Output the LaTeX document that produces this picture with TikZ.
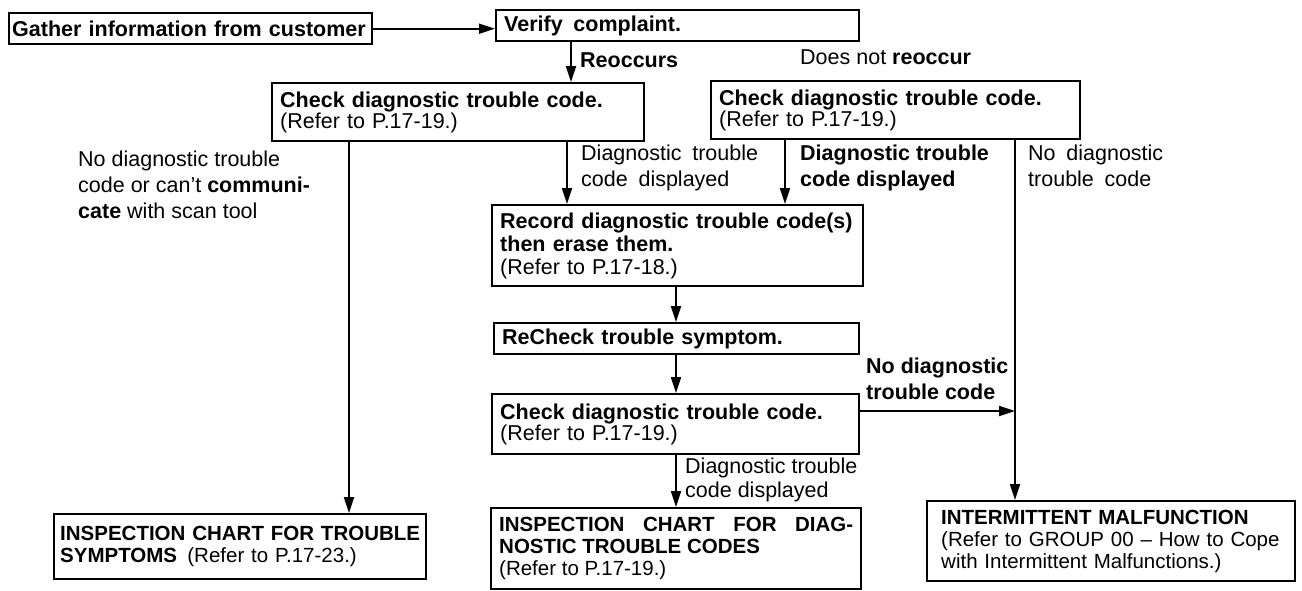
\documentclass[tikz,border=0pt]{standalone}
\usepackage{fontspec}
\setmainfont{Liberation Sans}
\usetikzlibrary{arrows.meta}

\begin{document}
\begin{tikzpicture}[
  x=1pt, y=-1pt,
  font=\fontsize{21.5}{26}\selectfont,
  box/.style={draw, line width=2.4pt, anchor=north west, align=left, inner xsep=8pt, inner ysep=2pt, font=\fontsize{21.5}{23}\selectfont\bfseries},
  chk/.style={box, font=\fontsize{21.5}{19}\selectfont\bfseries},
  insp/.style={box, font=\fontsize{20.5}{22}\selectfont\bfseries},
  lbl/.style={anchor=north west, align=left, inner sep=0pt},
  lblb/.style={lbl, font=\fontsize{21.5}{26}\selectfont\bfseries},
  ar/.style={-{Triangle[length=16pt, width=10pt]}, line width=1.8pt}
]
\useasboundingbox (0,0) rectangle (1302,590);
% boxes
\node[box, text width=357pt, inner xsep=3pt, minimum height=31pt] (gather) at (8,12) {Gather information from customer};
\node[box, text width=347pt, minimum height=31pt] (verify) at (495,9) {Verify\enspace complaint.};
\node[chk, text width=356pt, minimum height=58pt] (chkA) at (271,82) {Check diagnostic trouble code.\\\mdseries(Refer to P.17-19.)};
\node[chk, text width=353pt, minimum height=58pt] (chkB) at (710,80) {Check diagnostic trouble code.\\\mdseries(Refer to P.17-19.)};
\node[box, text width=355pt, minimum height=81pt] (record) at (491,204) {Record diagnostic trouble code(s)\\then erase them.\\\mdseries(Refer to P.17-18.)};
\node[box, text width=349pt, minimum height=31pt] (recheck) at (493,322) {ReCheck trouble symptom.};
\node[chk, text width=351pt, minimum height=60pt] (chkC) at (491,393) {Check diagnostic trouble code.\\\mdseries(Refer to P.17-19.)};
\node[insp, text width=360pt, inner xsep=6pt, minimum height=65pt] (inspA) at (53,513) {INSPECTION CHART FOR TROUBLE\\SYMPTOMS\enspace\mdseries(Refer to P.17-23.)};
\node[insp, align=justify, text width=354pt, minimum height=81pt] (inspB) at (490,507) {INSPECTION CHART FOR DIAG-\linebreak NOSTIC TROUBLE CODES\\\mdseries(Refer to P.17-19.)};
\node[insp, text width=340pt, inner xsep=14pt, minimum height=80pt] (inspC) at (926,500) {INTERMITTENT MALFUNCTION\\\mdseries(Refer to GROUP 00 -- How to Cope\\with Intermittent Malfunctions.)};
% columns of the connectors
\coordinate (xRe) at (571,0);
\coordinate (xIns) at (349,0);
\coordinate (xDspA) at (567,0);
\coordinate (xDspB) at (785,0);
\coordinate (xNoD) at (1015,0);
\coordinate (xMid) at (676,0);
\coordinate (yNoD) at (0,411);
% connectors
\draw[ar] (gather.east) -- (gather.east -| verify.west);
\draw[ar] (verify.south -| xRe) -- (chkA.north -| xRe);
\draw[ar] (chkA.south -| xIns) -- (inspA.north -| xIns);
\draw[ar] (chkA.south -| xDspA) -- (record.north -| xDspA);
\draw[ar] (chkB.south -| xDspB) -- (record.north -| xDspB);
\draw[ar] (chkB.south -| xNoD) -- (inspC.north -| xNoD);
\draw[ar] (record.south -| xMid) -- (recheck.north -| xMid);
\draw[ar] (recheck.south -| xMid) -- (chkC.north -| xMid);
\draw[ar] (chkC.south -| xMid) -- (inspB.north -| xMid);
\draw[ar] (chkC.east |- yNoD) -- (xNoD |- yNoD);
% labels
\node[lblb, anchor=west] (reocc) at (580,60) {Reoccurs};
\node[lbl, anchor=west] (noreocc) at (800,57) {Does not \textbf{reoccur}};
\node[lbl] (nocomm) at (78,151) {No diagnostic trouble\\code or can't \textbf{communi-}\\\textbf{cate} with scan tool};
\node[lbl] (dispA) at (581,145) {Diagnostic\enspace trouble\\code\enspace displayed};
\node[lblb] (dispB) at (800,145) {Diagnostic trouble\\code displayed};
\node[lbl] (nodtcA) at (1028,145) {No\enspace diagnostic\\trouble\enspace code};
\node[lblb] (nodtcB) at (866,358) {No diagnostic\\trouble code};
\node[lbl, font=\fontsize{21.5}{24}\selectfont] (dispC) at (685,458) {Diagnostic trouble\\code displayed};
\end{tikzpicture}
\end{document}
